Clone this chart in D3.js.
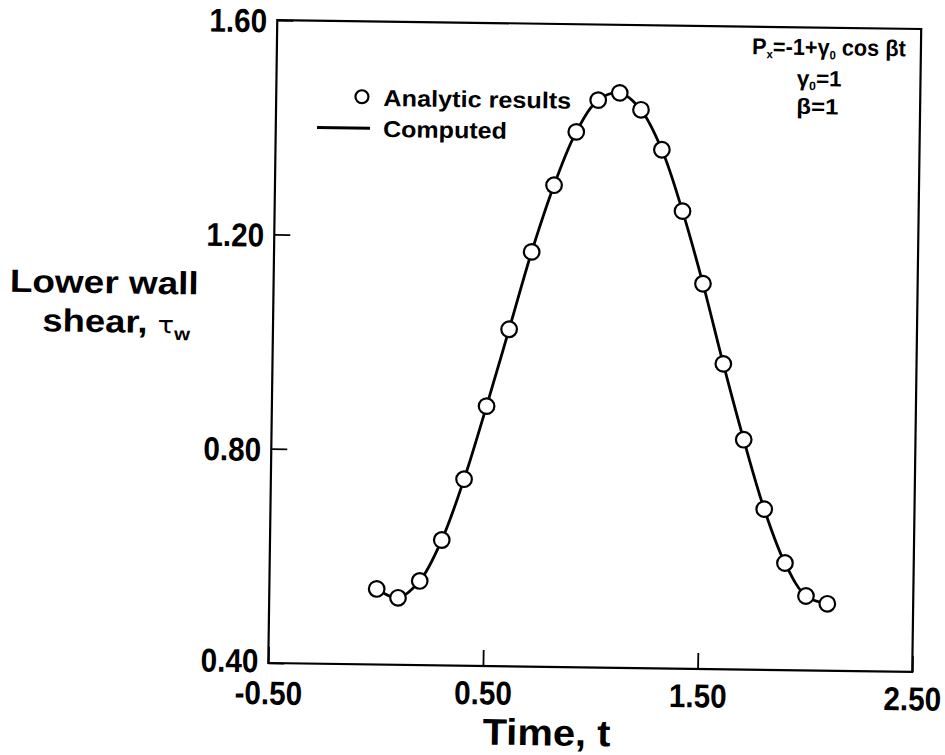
<!DOCTYPE html>
<html>
<head>
<meta charset="utf-8">
<script src="https://cdn.jsdelivr.net/npm/d3@7"></script>
<style>
  html, body { margin: 0; padding: 0; background: #fff; }
  svg { display: block; }
  text { font-family: "Liberation Sans", Arial, Helvetica, sans-serif; font-weight: bold; fill: #000; }
</style>
</head>
<body>
<svg id="chart" width="945" height="755"></svg>
<script>
// ---- data ----
const timeAnalytic = [0.0, 0.1, 0.2, 0.3, 0.4, 0.5, 0.6, 0.7, 0.8, 0.9, 1.0,
                      1.1, 1.2, 1.3, 1.4, 1.5, 1.6, 1.7, 1.8, 1.9, 2.0, 2.1];
const shearAnalytic = [0.541, 0.525, 0.557, 0.634, 0.748, 0.885, 1.029, 1.174, 1.299, 1.399, 1.459,
                       1.473, 1.442, 1.368, 1.254, 1.119, 0.970, 0.829, 0.700, 0.600, 0.539, 0.525];
const timeComputed = [0.0, 0.1, 0.2, 0.3, 0.4, 0.5, 0.6, 0.7, 0.8, 0.9, 1.0,
                      1.1, 1.2, 1.3, 1.4, 1.5, 1.6, 1.7, 1.8, 1.9, 2.0, 2.1];
const shearComputed = [0.541, 0.525, 0.557, 0.634, 0.748, 0.885, 1.029, 1.174, 1.299, 1.399, 1.459,
                       1.473, 1.442, 1.368, 1.254, 1.119, 0.970, 0.829, 0.700, 0.600, 0.539, 0.525];
const xTicks = [-0.5, 0.5, 1.5, 2.5];
const yTicks = [0.4, 0.8, 1.2, 1.6];
const xTickLabels = ["-0.50", "0.50", "1.50", "2.50"];
const yTickLabels = ["0.40", "0.80", "1.20", "1.60"];

// ---- layout ----
const frame = { left: 272.75, top: 24.5, width: 644, height: 643 };
const cx = frame.left + frame.width / 2, cy = frame.top + frame.height / 2;

const svg = d3.select("#chart");
const root = svg.append("g").attr("transform", `rotate(0.8, ${cx}, ${cy})`);

// horizontally scale a text element about an anchor x so it spans a target width
function fitWidth(sel, target, ax) {
  const w = sel.node().getBBox().width;
  const s = target / w;
  sel.attr("transform", `translate(${ax},0) scale(${s},1) translate(${-ax},0)`);
}
function squeeze(sel, s, ax) {
  sel.attr("transform", `translate(${ax},0) scale(${s},1) translate(${-ax},0)`);
}

const x = d3.scaleLinear().domain([-0.5, 2.5]).range([frame.left, frame.left + frame.width]);
const y = d3.scaleLinear().domain([0.4, 1.6]).range([frame.top + frame.height, frame.top]);

// inward ticks via axes
const xAxis = d3.axisBottom(x).tickValues(xTicks).tickSize(-16).tickFormat((d, i) => xTickLabels[i]);
const yAxis = d3.axisLeft(y).tickValues(yTicks).tickSize(-16).tickFormat((d, i) => yTickLabels[i]);

const gx = root.append("g").attr("transform", `translate(0,${frame.top + frame.height})`).call(xAxis);
gx.select(".domain").remove();
gx.selectAll(".tick line").attr("stroke", "#000").attr("stroke-width", 1.8);
gx.selectAll(".tick text").attr("y", (d, i) => i === 0 ? 18 : 15).attr("dy", "0.71em")
  .style("font-size", "33px").style("font-family", "'Liberation Sans', Arial, sans-serif").style("font-weight", "bold")
  .each(function () { squeeze(d3.select(this), 0.9, 0); });

const gy = root.append("g").attr("transform", `translate(${frame.left},0)`).call(yAxis);
gy.select(".domain").remove();
gy.selectAll(".tick line").attr("stroke", "#000").attr("stroke-width", 1.8);
gy.selectAll(".tick text").attr("x", -10).attr("dy", "0.36em")
  .attr("y", (d, i) => i === 0 ? -3 : 0)
  .style("font-size", "33px").style("font-family", "'Liberation Sans', Arial, sans-serif").style("font-weight", "bold")
  .each(function () { squeeze(d3.select(this), 0.9, -10); });

// frame
root.append("rect")
  .attr("x", frame.left).attr("y", frame.top)
  .attr("width", frame.width).attr("height", frame.height)
  .attr("fill", "none").attr("stroke", "#000").attr("stroke-width", 2.2);

// computed line
const computed = timeComputed.map((t, i) => [t, shearComputed[i]]);
const line = d3.line().x(d => x(d[0])).y(d => y(d[1])).curve(d3.curveCatmullRom.alpha(0.5));
root.append("path").datum(computed)
  .attr("d", line).attr("fill", "none").attr("stroke", "#000").attr("stroke-width", 2.8);

// analytic circles
const analytic = timeAnalytic.map((t, i) => [t, shearAnalytic[i]]);
root.append("g").selectAll("circle").data(analytic).join("circle")
  .attr("cx", d => x(d[0])).attr("cy", d => y(d[1])).attr("r", 7.8)
  .attr("fill", "#fff").attr("stroke", "#000").attr("stroke-width", 2.2);

// legend
root.append("circle").attr("cx", 358.5).attr("cy", 100).attr("r", 6.5)
  .attr("fill", "#fff").attr("stroke", "#000").attr("stroke-width", 2.2);
const lg1 = root.append("text").attr("x", 380).attr("y", 109).style("font-size", "23px").text("Analytic results");
fitWidth(lg1, 188, 380);
root.append("line").attr("x1", 314).attr("x2", 367).attr("y1", 131.5).attr("y2", 131.5)
  .attr("stroke", "#000").attr("stroke-width", 3);
const lg2 = root.append("text").attr("x", 380).attr("y", 140).style("font-size", "23px").text("Computed");
fitWidth(lg2, 124, 380);

// annotation
const a1 = root.append("text").attr("x", 748).attr("y", 52).style("font-size", "23px");
a1.append("tspan").text("P");
a1.append("tspan").attr("dy", 4).style("font-size", "12px").text("x");
a1.append("tspan").attr("dy", -4).text("=-1+γ");
a1.append("tspan").attr("dy", 4).style("font-size", "12px").text("0");
a1.append("tspan").attr("dy", -4).text(" cos βt");
fitWidth(a1, 154, 748);

const a2 = root.append("text").attr("x", 793).attr("y", 83).style("font-size", "22px");
a2.append("tspan").text("γ");
a2.append("tspan").attr("dy", 4).style("font-size", "12px").text("0");
a2.append("tspan").attr("dy", -4).text("=1");
fitWidth(a2, 45, 793);

const a3 = root.append("text").attr("x", 793).attr("y", 111).style("font-size", "22px").text("β=1");
fitWidth(a3, 42, 793);

// axis titles
const xt = root.append("text").attr("x", 488).attr("y", 746).style("font-size", "37px").text("Time, t");
fitWidth(xt, 128, 488);

const yl1 = root.append("text").attr("x", 9).attr("y", 300).style("font-size", "32px").text("Lower wall");
fitWidth(yl1, 189, 9);
const yl2 = root.append("text").attr("x", 42).attr("y", 339).style("font-size", "32px");
yl2.append("tspan").text("shear, ");
yl2.append("tspan").style("font-family", "'DejaVu Sans', sans-serif").style("font-weight", "normal").style("font-size", "24px").text("τ");
yl2.append("tspan").attr("dy", 7).style("font-size", "18px").text("w");
fitWidth(yl2, 149, 42);
</script>
</body>
</html>
